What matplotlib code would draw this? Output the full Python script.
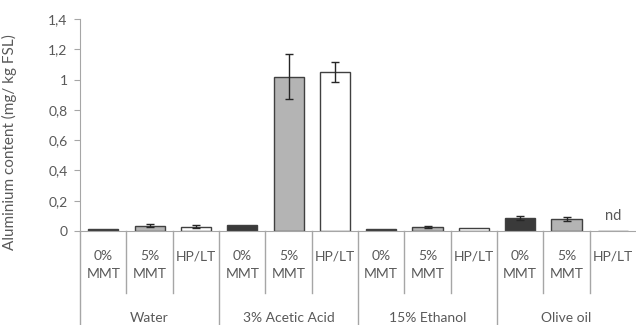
import matplotlib
matplotlib.use("Agg")
import matplotlib.pyplot as plt
import matplotlib.transforms as mtransforms
import numpy as np

groups = ["Water", "3% Acetic Acid", "15% Ethanol", "Olive oil"]
sample_top = ["0%", "5%", "HP/LT"]
sample_bottom = ["MMT", "MMT", ""]
values = [0.015, 0.035, 0.03,
          0.04, 1.02, 1.05,
          0.015, 0.025, 0.02,
          0.085, 0.08, np.nan]
errors = [0.0, 0.01, 0.01,
          0.0, 0.15, 0.065,
          0.0, 0.008, 0.0,
          0.015, 0.015, 0.0]
sample_colors = ["#3a3a3a", "#b4b4b4", "#ffffff"]
yticks = [0, 0.2, 0.4, 0.6, 0.8, 1.0, 1.2, 1.4]

plt.rcParams["font.family"] = ["Lato", "DejaVu Sans"]
text_color = "#595959"
line_color = "#a6a6a6"

fig = plt.figure(figsize=(6.36, 3.25), dpi=100)
ax = fig.add_axes([0.126, 0.289, 0.874, 0.6525])

n = len(values)
x = np.arange(n)
colors = [sample_colors[i % 3] for i in range(n)]
heights = [0 if np.isnan(v) else v for v in values]
ax.bar(x, heights, width=0.65, color=colors, edgecolor="#404040", linewidth=1.0, zorder=2)
for xi, v, e in zip(x, values, errors):
    if not np.isnan(v) and e > 0:
        ax.errorbar(xi, v, yerr=e, fmt="none", ecolor="#262626", elinewidth=1.0,
                    capsize=3, capthick=1.0, zorder=3)

ax.text(x[-1], 0.1, "nd", ha="center", va="center", fontsize=10.5, color=text_color)

ax.set_xlim(-0.5, n - 0.5)
ax.set_ylim(0, 1.4)
ax.set_yticks(yticks)
ax.set_yticklabels([("%g" % t).replace(".", ",") for t in yticks])
ax.set_ylabel("Aluminium content (mg/ kg FSL)", fontsize=11, color=text_color)
ax.yaxis.set_label_coords(-0.113, 0.42)
ax.tick_params(axis="y", labelsize=10, labelcolor=text_color, color=line_color,
               length=4, pad=5)
ax.set_xticks([])

for side in ["top", "right"]:
    ax.spines[side].set_visible(False)
ax.spines["left"].set_color(line_color)
ax.spines["bottom"].set_color(line_color)

trans = mtransforms.blended_transform_factory(ax.transData, ax.transAxes)
for i in range(n):
    ax.text(x[i], -0.118, sample_top[i % 3], transform=trans, ha="center", va="center",
            fontsize=10, color=text_color)
    ax.text(x[i], -0.203, sample_bottom[i % 3], transform=trans, ha="center", va="center",
            fontsize=10, color=text_color)

for k in range(1, n):
    bottom = -0.443 if k % 3 == 0 else -0.29
    ax.plot([k - 0.5, k - 0.5], [0, bottom], transform=trans, color=line_color,
            linewidth=1.0, clip_on=False)
ax.plot([-0.5, -0.5], [0, -0.443], transform=trans, color=line_color,
        linewidth=1.0, clip_on=False)

for g, name in enumerate(groups):
    ax.text(3 * g + 1, -0.41, name, transform=trans, ha="center", va="center",
            fontsize=10, color=text_color)

fig.savefig("out.png", dpi=100)
